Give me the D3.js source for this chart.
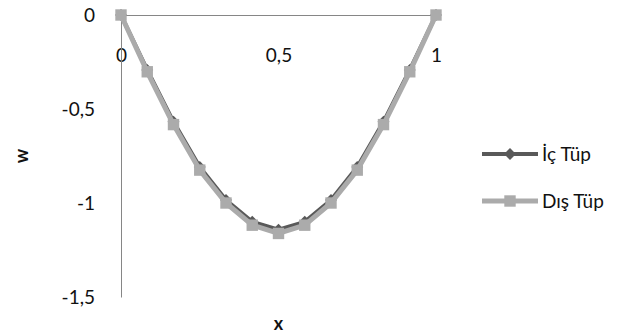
<!DOCTYPE html>
<html>
<head>
<meta charset="utf-8">
<script src="https://cdn.jsdelivr.net/npm/d3@7"></script>
<style>
  html, body { margin: 0; padding: 0; background: #fff; }
  svg { display: block; }
  text { font-family: Lato, "Open Sans", sans-serif; fill: #111; }
</style>
</head>
<body>
<svg id="chart" width="626" height="336"></svg>
<script>
// Beam deflection w along x for the inner and outer tube
const xs = [0, 1/12, 2/12, 3/12, 4/12, 5/12, 6/12, 7/12, 8/12, 9/12, 10/12, 11/12, 1];
const icTup = [0, -0.292, -0.568, -0.808, -0.984, -1.1, -1.142, -1.1, -0.984, -0.808, -0.568, -0.292, 0];
const disTup = [0, -0.302, -0.583, -0.825, -1.0, -1.118, -1.162, -1.118, -1.0, -0.825, -0.583, -0.302, 0];
const xTicks = [0, 0.5, 1];
const yTicks = [0, -0.5, -1, -1.5];
const seriesNames = ["İç Tüp", "Dış Tüp"];

const fmt = v => String(v).replace(".", ",");

const svg = d3.select("#chart");
const x = d3.scaleLinear().domain([0, 1]).range([121, 436]);
const y = d3.scaleLinear().domain([-1.5, 0]).range([297, 15]);

// axes: horizontal line at w = 0, vertical line at x = 0
svg.append("g")
  .attr("transform", `translate(0,${y(0)})`)
  .call(d3.axisBottom(x).tickValues(xTicks).tickSize(0).tickFormat(fmt).tickPadding(34))
  .call(g => g.select(".domain").attr("stroke", "#868686"))
  .call(g => g.selectAll("text").style("font-size", "19px").attr("fill", "#111"));

svg.append("g")
  .attr("transform", `translate(${x(0)},0)`)
  .call(d3.axisLeft(y).tickValues(yTicks).tickSize(0).tickFormat(fmt).tickPadding(26))
  .call(g => g.select(".domain").attr("stroke", "#868686"))
  .call(g => g.selectAll("text").style("font-size", "19px").attr("fill", "#111"));

// axis titles
svg.append("text")
  .attr("x", x(0.5)).attr("y", 330)
  .attr("text-anchor", "middle")
  .style("font-size", "18px").style("font-weight", "bold")
  .text("x");
svg.append("text")
  .attr("transform", `translate(28,${y(-0.75)}) rotate(-90)`)
  .attr("text-anchor", "middle")
  .style("font-size", "18px").style("font-weight", "bold")
  .text("w");

const line = d3.line().x(d => x(d[0])).y(d => y(d[1]));
const diamond = d3.symbol().type(d3.symbolDiamond2).size(90);
const square = d3.symbol().type(d3.symbolSquare).size(130);

const series = [
  { name: seriesNames[0], vals: icTup, color: "#595959", width: 4, sym: diamond },
  { name: seriesNames[1], vals: disTup, color: "#ABABAB", width: 5, sym: square }
];

series.forEach(s => {
  const pts = xs.map((xv, i) => [xv, s.vals[i]]);
  svg.append("path")
    .datum(pts)
    .attr("fill", "none")
    .attr("stroke", s.color)
    .attr("stroke-width", s.width)
    .attr("stroke-linejoin", "round")
    .attr("d", line);
  svg.append("g").selectAll("path")
    .data(pts).join("path")
    .attr("transform", d => `translate(${x(d[0])},${y(d[1])})`)
    .attr("d", s.sym)
    .attr("fill", s.color);
});

// legend
const legend = svg.append("g");
series.forEach((s, i) => {
  const ly = 154 + i * 47;
  legend.append("line")
    .attr("x1", 482).attr("x2", 538).attr("y1", ly).attr("y2", ly)
    .attr("stroke", s.color).attr("stroke-width", s.width);
  legend.append("path")
    .attr("transform", `translate(510,${ly})`)
    .attr("d", s.sym)
    .attr("fill", s.color);
  legend.append("text")
    .attr("x", 542).attr("y", ly)
    .attr("dy", "0.35em")
    .style("font-size", "19px")
    .text(s.name);
});
</script>
</body>
</html>
